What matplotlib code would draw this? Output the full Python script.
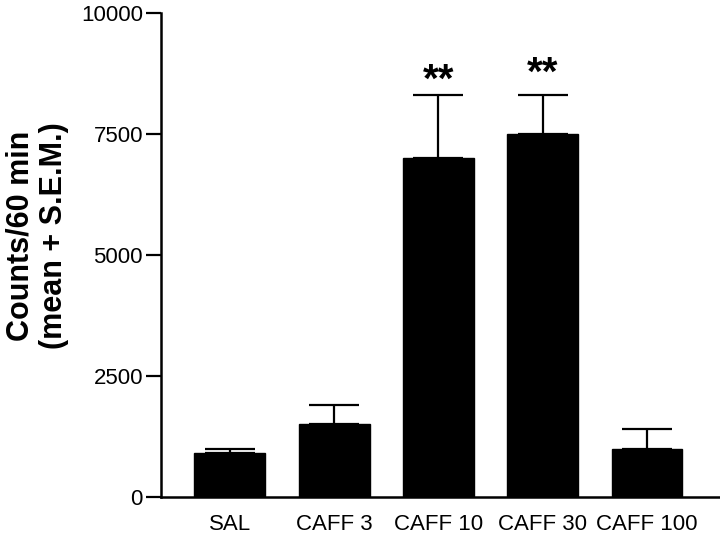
import matplotlib
matplotlib.use("Agg")
import matplotlib.pyplot as plt

categories = ["SAL", "CAFF 3", "CAFF 10", "CAFF 30", "CAFF 100"]
means = [900, 1500, 7000, 7500, 1000]
sems = [100, 400, 1300, 800, 400]
star_labels = ["", "", "**", "**", ""]
star_y = [0, 0, 8600, 8750, 0]
yticks = [0, 2500, 5000, 7500, 10000]

plt.rcParams['font.family'] = ['Liberation Sans', 'DejaVu Sans']

fig = plt.figure(figsize=(7.2, 5.34), dpi=100)
ax = fig.add_axes([161/720, 1-497/534, 1-161/720, (497-13)/534])

x = list(range(len(categories)))
ax.bar(x, means, width=0.68, color='black', edgecolor='black', zorder=2)
ax.errorbar(x, means, yerr=[[0]*len(sems), sems], fmt='none', ecolor='black',
            elinewidth=1.6, capsize=18, capthick=1.6, zorder=1)

for xi, s, yv in zip(x, star_labels, star_y):
    if s:
        ax.text(xi, yv, s, ha='center', va='center', fontsize=29, fontweight='bold')

ax.set_xlim(-0.66, 4.70)
ax.set_ylim(0, 10000)
ax.set_yticks(yticks)
ax.set_yticklabels([str(v) for v in yticks])
ax.set_xticks(x)
ax.set_xticklabels(categories)
ax.tick_params(axis='x', length=0, labelsize=16, pad=12)
ax.tick_params(axis='y', length=11, width=1.6, labelsize=16, pad=2)
for side in ['top', 'right']:
    ax.spines[side].set_visible(False)
for side in ['left', 'bottom']:
    ax.spines[side].set_linewidth(1.8)

fig.text(37/720, 1-236/534, "Counts/60 min\n(mean + S.E.M.)", fontsize=22,
         fontweight='bold', rotation=90, ha='center', va='center',
         multialignment='center', linespacing=1.15)

fig.savefig("out.png", dpi=100)
